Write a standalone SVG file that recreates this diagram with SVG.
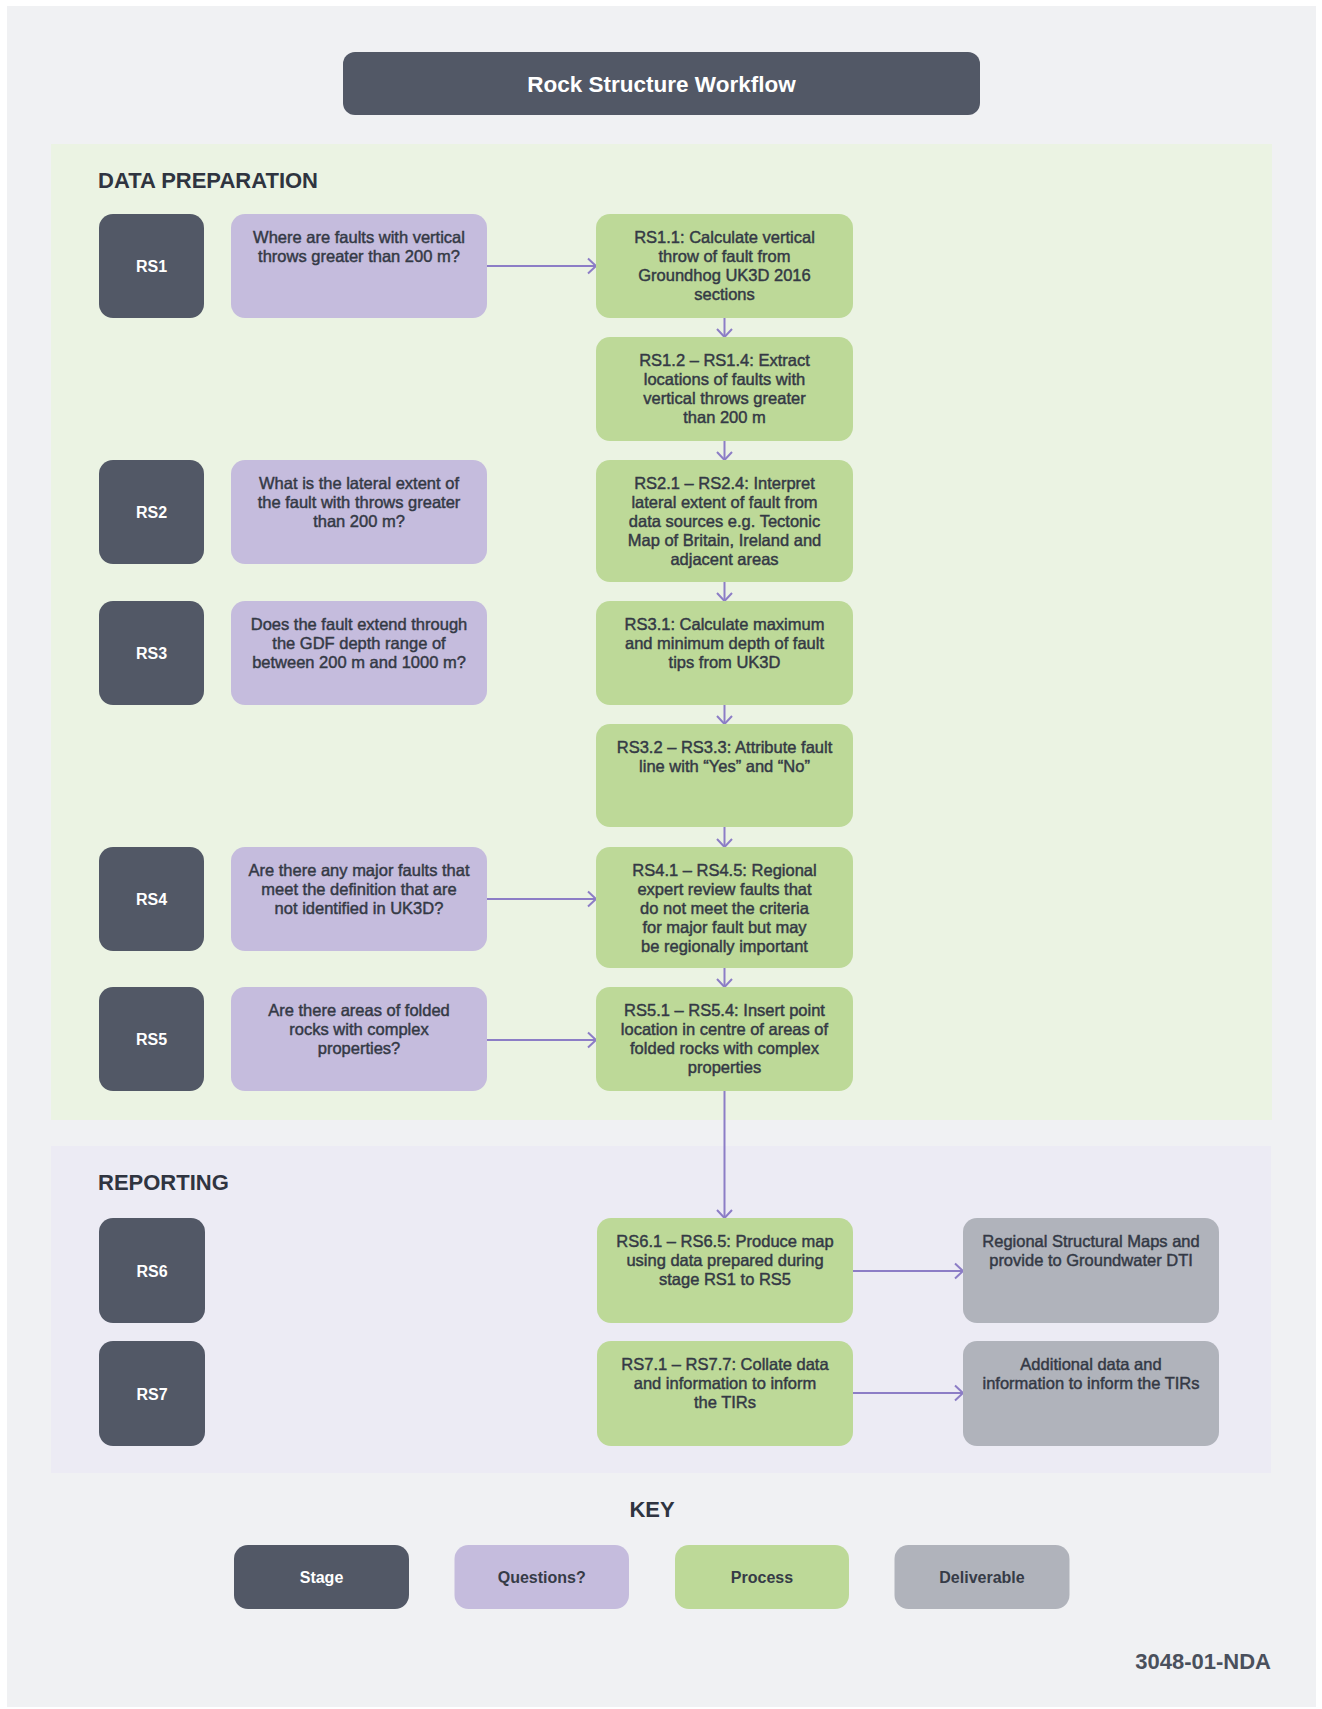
<svg xmlns="http://www.w3.org/2000/svg" width="1322" height="1709" viewBox="0 0 1322 1709">
<defs>
<style>
.bg{fill:#f0f1f3}
.stage{fill:#525866}
.q{fill:#c5bcdd}
.p{fill:#bdd998}
.d{fill:#b0b3bb}
.t{font-family:"Liberation Sans",Arial,sans-serif;font-size:16.5px;fill:#343945;stroke:#343945;stroke-width:0.45px;text-anchor:middle}
.st{font-family:"Liberation Sans",Arial,sans-serif;font-size:16px;font-weight:bold;fill:#ffffff;text-anchor:middle}
.kt{font-family:"Liberation Sans",Arial,sans-serif;font-size:16px;font-weight:bold;fill:#363b47;text-anchor:middle}
.h{font-family:"Liberation Sans",Arial,sans-serif;font-size:22px;font-weight:bold;fill:#2f3440}
.con{stroke:#8c7dc6;stroke-width:2;fill:none}
</style>
<marker id="arr" viewBox="0 0 12 18" refX="10" refY="9" markerWidth="12" markerHeight="18" markerUnits="userSpaceOnUse" orient="auto">
<path d="M2,1.5 L10,9 L2,16.5" fill="none" stroke="#8c7dc6" stroke-width="2"/>
</marker>
</defs>

<rect x="0" y="0" width="1322" height="1709" fill="#ffffff"/>
<rect class="bg" x="7" y="6" width="1309" height="1701"/>

<g id="title">
<rect x="343" y="52" width="637" height="63" rx="12" fill="#525866"/>
<text x="661.5" y="92" font-family="Liberation Sans,Arial,sans-serif" font-size="22.5" font-weight="bold" fill="#ffffff" text-anchor="middle">Rock Structure Workflow</text>
</g>

<g id="panel-data-preparation">
<rect x="51" y="144" width="1221" height="976" fill="#ebf3e3"/>
<text class="h" x="98" y="188">DATA PREPARATION</text>
</g>

<g id="panel-reporting">
<rect x="51" y="1146" width="1220" height="327" fill="#ecebf4"/>
<text class="h" x="98" y="1190">REPORTING</text>
</g>

<g id="connectors">
<line class="con" x1="487" y1="266" x2="596" y2="266" marker-end="url(#arr)"/>
<line class="con" x1="487" y1="899" x2="596" y2="899" marker-end="url(#arr)"/>
<line class="con" x1="487" y1="1040" x2="596" y2="1040" marker-end="url(#arr)"/>
<line class="con" x1="724.5" y1="318" x2="724.5" y2="337" marker-end="url(#arr)"/>
<line class="con" x1="724.5" y1="441" x2="724.5" y2="460" marker-end="url(#arr)"/>
<line class="con" x1="724.5" y1="582" x2="724.5" y2="601" marker-end="url(#arr)"/>
<line class="con" x1="724.5" y1="705" x2="724.5" y2="724" marker-end="url(#arr)"/>
<line class="con" x1="724.5" y1="827" x2="724.5" y2="847" marker-end="url(#arr)"/>
<line class="con" x1="724.5" y1="968" x2="724.5" y2="987" marker-end="url(#arr)"/>
<line class="con" x1="724.5" y1="1091" x2="724.5" y2="1218" marker-end="url(#arr)"/>
<line class="con" x1="853" y1="1271" x2="963" y2="1271" marker-end="url(#arr)"/>
<line class="con" x1="853" y1="1393" x2="963" y2="1393" marker-end="url(#arr)"/>
</g>

<g id="RS1">
<rect class="stage" x="99" y="214" width="105" height="104" rx="14"/>
<text class="st" x="151.5" y="272">RS1</text>
</g>
<g id="RS1-question">
<rect class="q" x="231" y="214" width="256" height="104" rx="14"/>
<text class="t" x="359" y="242.5">Where are faults with vertical</text>
<text class="t" x="359" y="261.5">throws greater than 200 m?</text>
</g>
<g id="RS1.1">
<rect class="p" x="596" y="214" width="257" height="104" rx="14"/>
<text class="t" x="724.5" y="242.5">RS1.1: Calculate vertical</text>
<text class="t" x="724.5" y="261.5">throw of fault from</text>
<text class="t" x="724.5" y="280.5">Groundhog UK3D 2016</text>
<text class="t" x="724.5" y="299.5">sections</text>
</g>
<g id="RS1.2-RS1.4">
<rect class="p" x="596" y="337" width="257" height="104" rx="14"/>
<text class="t" x="724.5" y="365.5">RS1.2 – RS1.4: Extract</text>
<text class="t" x="724.5" y="384.5">locations of faults with</text>
<text class="t" x="724.5" y="403.5">vertical throws greater</text>
<text class="t" x="724.5" y="422.5">than 200 m</text>
</g>

<g id="RS2">
<rect class="stage" x="99" y="460" width="105" height="104" rx="14"/>
<text class="st" x="151.5" y="518">RS2</text>
</g>
<g id="RS2-question">
<rect class="q" x="231" y="460" width="256" height="104" rx="14"/>
<text class="t" x="359" y="488.5">What is the lateral extent of</text>
<text class="t" x="359" y="507.5">the fault with throws greater</text>
<text class="t" x="359" y="526.5">than 200 m?</text>
</g>
<g id="RS2.1-RS2.4">
<rect class="p" x="596" y="460" width="257" height="122" rx="14"/>
<text class="t" x="724.5" y="488.5">RS2.1 – RS2.4: Interpret</text>
<text class="t" x="724.5" y="507.5">lateral extent of fault from</text>
<text class="t" x="724.5" y="526.5">data sources e.g. Tectonic</text>
<text class="t" x="724.5" y="545.5">Map of Britain, Ireland and</text>
<text class="t" x="724.5" y="564.5">adjacent areas</text>
</g>

<g id="RS3">
<rect class="stage" x="99" y="601" width="105" height="104" rx="14"/>
<text class="st" x="151.5" y="659">RS3</text>
</g>
<g id="RS3-question">
<rect class="q" x="231" y="601" width="256" height="104" rx="14"/>
<text class="t" x="359" y="629.5">Does the fault extend through</text>
<text class="t" x="359" y="648.5">the GDF depth range of</text>
<text class="t" x="359" y="667.5">between 200 m and 1000 m?</text>
</g>
<g id="RS3.1">
<rect class="p" x="596" y="601" width="257" height="104" rx="14"/>
<text class="t" x="724.5" y="629.5">RS3.1: Calculate maximum</text>
<text class="t" x="724.5" y="648.5">and minimum depth of fault</text>
<text class="t" x="724.5" y="667.5">tips from UK3D</text>
</g>
<g id="RS3.2-RS3.3">
<rect class="p" x="596" y="724" width="257" height="103" rx="14"/>
<text class="t" x="724.5" y="752.5">RS3.2 – RS3.3: Attribute fault</text>
<text class="t" x="724.5" y="771.5">line with “Yes” and “No”</text>
</g>

<g id="RS4">
<rect class="stage" x="99" y="847" width="105" height="104" rx="14"/>
<text class="st" x="151.5" y="905">RS4</text>
</g>
<g id="RS4-question">
<rect class="q" x="231" y="847" width="256" height="104" rx="14"/>
<text class="t" x="359" y="875.5">Are there any major faults that</text>
<text class="t" x="359" y="894.5">meet the definition that are</text>
<text class="t" x="359" y="913.5">not identified in UK3D?</text>
</g>
<g id="RS4.1-RS4.5">
<rect class="p" x="596" y="847" width="257" height="121" rx="14"/>
<text class="t" x="724.5" y="875.5">RS4.1 – RS4.5: Regional</text>
<text class="t" x="724.5" y="894.5">expert review faults that</text>
<text class="t" x="724.5" y="913.5">do not meet the criteria</text>
<text class="t" x="724.5" y="932.5">for major fault but may</text>
<text class="t" x="724.5" y="951.5">be regionally important</text>
</g>

<g id="RS5">
<rect class="stage" x="99" y="987" width="105" height="104" rx="14"/>
<text class="st" x="151.5" y="1045">RS5</text>
</g>
<g id="RS5-question">
<rect class="q" x="231" y="987" width="256" height="104" rx="14"/>
<text class="t" x="359" y="1015.5">Are there areas of folded</text>
<text class="t" x="359" y="1034.5">rocks with complex</text>
<text class="t" x="359" y="1053.5">properties?</text>
</g>
<g id="RS5.1-RS5.4">
<rect class="p" x="596" y="987" width="257" height="104" rx="14"/>
<text class="t" x="724.5" y="1015.5">RS5.1 – RS5.4: Insert point</text>
<text class="t" x="724.5" y="1034.5">location in centre of areas of</text>
<text class="t" x="724.5" y="1053.5">folded rocks with complex</text>
<text class="t" x="724.5" y="1072.5">properties</text>
</g>

<g id="RS6">
<rect class="stage" x="99" y="1218" width="106" height="105" rx="14"/>
<text class="st" x="152" y="1276.5">RS6</text>
</g>
<g id="RS6.1-RS6.5">
<rect class="p" x="597" y="1218" width="256" height="105" rx="14"/>
<text class="t" x="725" y="1246.5">RS6.1 – RS6.5: Produce map</text>
<text class="t" x="725" y="1265.5">using data prepared during</text>
<text class="t" x="725" y="1284.5">stage RS1 to RS5</text>
</g>
<g id="deliverable-maps">
<rect class="d" x="963" y="1218" width="256" height="105" rx="14"/>
<text class="t" x="1091" y="1246.5">Regional Structural Maps and</text>
<text class="t" x="1091" y="1265.5">provide to Groundwater DTI</text>
</g>

<g id="RS7">
<rect class="stage" x="99" y="1341" width="106" height="105" rx="14"/>
<text class="st" x="152" y="1399.5">RS7</text>
</g>
<g id="RS7.1-RS7.7">
<rect class="p" x="597" y="1341" width="256" height="105" rx="14"/>
<text class="t" x="725" y="1369.5">RS7.1 – RS7.7: Collate data</text>
<text class="t" x="725" y="1388.5">and information to inform</text>
<text class="t" x="725" y="1407.5">the TIRs</text>
</g>
<g id="deliverable-additional">
<rect class="d" x="963" y="1341" width="256" height="105" rx="14"/>
<text class="t" x="1091" y="1369.5">Additional data and</text>
<text class="t" x="1091" y="1388.5">information to inform the TIRs</text>
</g>

<g id="key">
<text class="h" x="652" y="1517" text-anchor="middle">KEY</text>
<g id="key-stage">
<rect class="stage" x="234" y="1545" width="175" height="64" rx="14"/>
<text class="st" x="321.5" y="1582.5">Stage</text>
</g>
<g id="key-questions">
<rect class="q" x="454.5" y="1545" width="174.5" height="64" rx="14"/>
<text class="kt" x="541.7" y="1582.5">Questions?</text>
</g>
<g id="key-process">
<rect class="p" x="675" y="1545" width="174" height="64" rx="14"/>
<text class="kt" x="762" y="1582.5">Process</text>
</g>
<g id="key-deliverable">
<rect class="d" x="894.5" y="1545" width="175" height="64" rx="14"/>
<text class="kt" x="982" y="1582.5">Deliverable</text>
</g>
</g>

<text x="1271" y="1669" font-family="Liberation Sans,Arial,sans-serif" font-size="22" font-weight="bold" fill="#4a505c" text-anchor="end">3048-01-NDA</text>
</svg>
